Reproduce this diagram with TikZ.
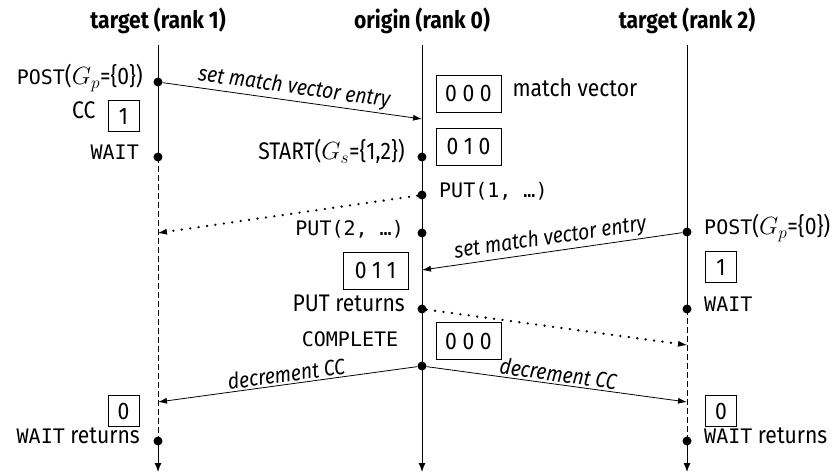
\documentclass[tikz,border=0pt]{standalone}
\usepackage{fontspec}
\setmainfont{Fira Sans}[FakeStretch=0.88]
\setmonofont{DejaVu Sans Mono}
\usetikzlibrary{arrows.meta,positioning}

\begin{document}
\begin{tikzpicture}[x=1pt,y=-1pt,
  font=\fontsize{24}{28}\selectfont,
  lifeline/.style={line width=1pt},
  waitline/.style={line width=1pt,dash pattern=on 6pt off 3pt},
  endarrow/.style={line width=1pt,-{Latex[length=9pt,width=7pt]}},
  dot/.style={circle,fill,inner sep=0pt,minimum size=9pt},
  lbl/.style={inner sep=0pt},
  mono/.style={font=\fontsize{20}{24}\selectfont\ttfamily},
  head/.style={font=\fontsize{24}{28}\selectfont\bfseries,anchor=base},
  vecbox/.style={draw,line width=0.8pt,inner sep=0pt,minimum width=65pt,minimum height=37pt},
  ccbox/.style={draw,line width=0.8pt,inner sep=0pt,minimum size=31pt},
  msg/.style={line width=0.8pt,-{Latex[length=9pt,width=6pt]}},
  dmsg/.style={line width=2.6pt,line cap=round,dash pattern=on 0pt off 8.5pt,
               -{Latex[length=9pt,width=6pt,line width=0pt]}},
  msglbl/.style={font=\fontsize{22}{26}\selectfont\itshape,sloped,above,midway,inner sep=2pt}
]
\useasboundingbox (0,0) rectangle (840,475);

% process headers
\node[head] (h1) at (158,28) {target (rank 1)};
\node[head] (h0) at (422,28) {origin (rank 0)};
\node[head] (h2) at (687,28) {target (rank 2)};

% lifeline ends
\coordinate (t1) at (158,45);
\coordinate (t0) at (422,45);
\coordinate (t2) at (687,45);
\coordinate (b1) at (158,472);
\coordinate (b0) at (422,472);
\coordinate (b2) at (687,472);

% events on rank 1
\node[dot] (r1post) at (158,82) {};
\node[dot] (r1wait) at (158,157) {};
\node[dot] (r1ret)  at (158,441) {};
% events on rank 0
\node[dot] (ostart) at (422,157) {};
\node[dot] (oput1)  at (422,195) {};
\node[dot] (oput2)  at (422,233) {};
\node[dot] (oputr)  at (422,309) {};
\node[dot] (ocompl) at (422,366) {};
% events on rank 2
\node[dot] (r2post) at (687,232) {};
\node[dot] (r2wait) at (687,309) {};
\node[dot] (r2ret)  at (687,441) {};

% message arrival points
\coordinate (in01) at (422,119);
\coordinate (in11) at (158,233);
\coordinate (in02) at (422,270);
\coordinate (in21) at (687,345);
\coordinate (in12) at (158,402);
\coordinate (in22) at (687,402);

% lifelines
\draw[lifeline] (t1) -- (r1wait.center);
\draw[waitline] (r1wait.center) -- (r1ret.center);
\draw[endarrow] (r1ret.center) -- (b1);
\draw[endarrow] (t0) -- (b0);
\draw[lifeline] (t2) -- (r2wait.center);
\draw[waitline] (r2wait.center) -- (r2ret.center);
\draw[endarrow] (r2ret.center) -- (b2);

% labels, rank 1
\node[lbl,anchor=mid east] (l1post) at ([xshift=-15pt]r1post.center)
  {{\fontsize{20}{24}\selectfont\ttfamily POST}($G_p$=\{0\})};
\node[ccbox] (cc1) at (123.5,116) {1};
\node[lbl,anchor=mid east] (l1cc) at ([xshift=-12pt]cc1.west) {CC};
\node[lbl,mono,anchor=mid east] (l1wait) at ([xshift=-19pt]r1wait.center) {WAIT};
\node[ccbox] (cc1b) at (123.5,411) {0};
\node[lbl,anchor=mid east] (l1ret) at ([xshift=-18pt]r1ret.center)
  {{\fontsize{20}{24}\selectfont\ttfamily WAIT} returns};

% labels, rank 0
\node[vecbox] (mv1) at (468.5,93.5) {0 0 0};
\node[lbl,anchor=mid west] (mvlbl) at ([xshift=11pt]mv1.east) {match vector};
\node[vecbox] (mv2) at (468.5,146.5) {0 1 0};
\node[lbl,anchor=mid east] (lstart) at ([xshift=-17pt]ostart.center)
  {START($G_s$=\{1,2\})};
\node[lbl,mono,anchor=mid west] (lput1) at ([xshift=17pt]oput1.center) {PUT(1, …)};
\node[lbl,mono,anchor=mid east] (lput2) at ([xshift=-18pt]oput2.center) {PUT(2, …)};
\node[vecbox] (mv3) at (375.5,270.5) {0 1 1};
\node[lbl,anchor=mid east] (lputr) at ([xshift=-17pt]oputr.center) {PUT returns};
\node[lbl,mono] (lcompl) at (350,339) {COMPLETE};
\node[vecbox] (mv4) at (468.5,341) {0 0 0};

% labels, rank 2
\node[lbl,anchor=mid west] (l2post) at ([xshift=17pt]r2post.center)
  {{\fontsize{20}{24}\selectfont\ttfamily POST}($G_p$=\{0\})};
\node[ccbox] (cc2) at (721,267) {1};
\node[lbl,mono,anchor=mid west] (l2wait) at ([xshift=17pt]r2wait.center) {WAIT};
\node[ccbox] (cc2b) at (721,411) {0};
\node[lbl,anchor=mid west] (l2ret) at ([xshift=17pt]r2ret.center)
  {{\fontsize{20}{24}\selectfont\ttfamily WAIT} returns};

% messages
\draw[msg] (r1post) -- node[msglbl] {set match vector entry} (in01);
\draw[dmsg] (oput1) -- (in11);
\draw[msg] (r2post) -- node[msglbl] {set match vector entry} (in02);
\draw[dmsg] (oputr) -- (in21);
\draw[msg] (ocompl) -- node[msglbl] {decrement CC} (in12);
\draw[msg] (ocompl) -- node[msglbl] {decrement CC} (in22);
\end{tikzpicture}
\end{document}
